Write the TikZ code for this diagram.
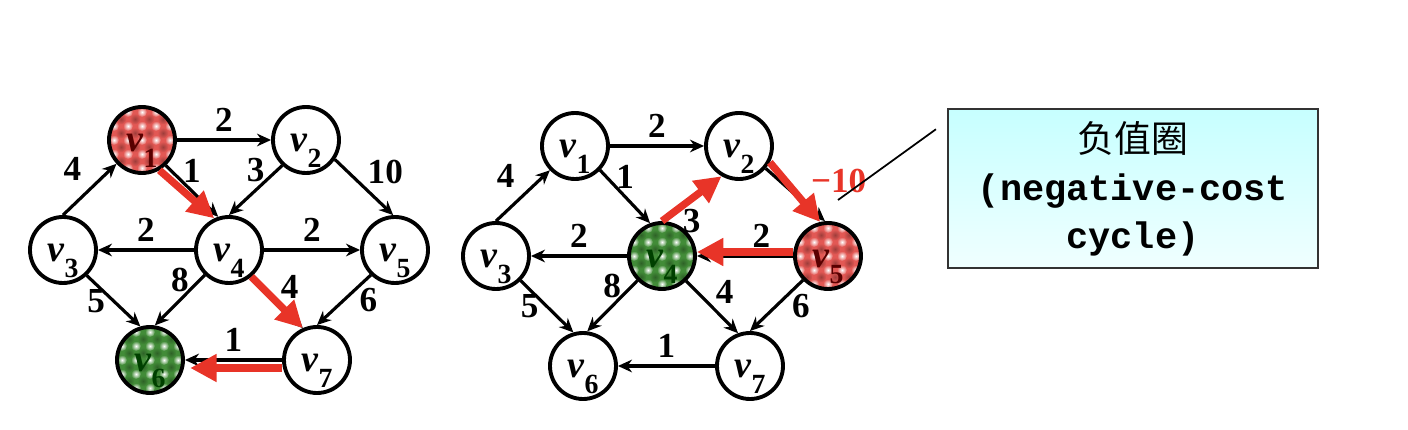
\documentclass[tikz,border=0pt]{standalone}
\usepackage{fontspec}
\setmainfont{Liberation Serif}
\setmonofont{Liberation Mono}
\newfontfamily\cjk{Noto Sans CJK SC}
\usepackage{xcolor}
\usetikzlibrary{arrows.meta, positioning, backgrounds}

\definecolor{hlred}{RGB}{232,52,40}
\definecolor{nodered}{RGB}{226,88,84}
\definecolor{nodegreen}{RGB}{66,140,56}

\newcommand{\vx}[1]{\textit{v}\raisebox{-4.3pt}{\fontsize{7.9}{7.9}\selectfont #1}}
% dotted fill behind a marked vertex
\newcommand{\speckle}[2]{%
  \begin{scope}
    \clip (#1.center) circle (0.33cm);
    \fill[#2] (#1.center) circle (0.33cm);
    \foreach \dx in {-0.35,-0.21,...,0.36}
      \foreach \dy in {-0.35,-0.21,...,0.36}
        \shade[inner color=#2!70!black, outer color=#2] ([shift={(\dx,\dy)}]#1.center) circle (0.055cm);
    \foreach \dx in {-0.28,-0.14,...,0.29}
      \foreach \dy in {-0.28,-0.14,...,0.29}
        \shade[inner color=white, outer color=#2] ([shift={(\dx,\dy)}]#1.center) circle (0.05cm);
  \end{scope}}

\begin{document}
\begin{tikzpicture}[
    vtx/.style={circle, draw, line width=1.1pt, minimum size=0.66cm, inner sep=0pt, fill=white, text height=10pt, text depth=3.2pt, font=\fontsize{10.8}{10.8}\selectfont\bfseries},
    hot/.style={vtx, fill=none, text=red!35!black},
    cool/.style={vtx, fill=none, text=green!25!black},
    arrow/.style={-{Stealth[length=4pt,width=3.6pt]}, line width=0.9pt},
    redarrow/.style={-{Triangle[length=7.5pt,width=7.5pt]}, line width=2.1pt, draw=hlred},
    lbl/.style={font=\fontsize{10}{10}\selectfont\bfseries, inner sep=2pt},
    callout/.style={draw=black!80, line width=0.6pt, top color=cyan!22, bottom color=cyan!6, minimum width=3.70cm, minimum height=1.53cm, align=center, font=\fontsize{10.5}{13.7}\selectfont}
]
\useasboundingbox (0,0) rectangle (14.08,4.30);

% Left graph
\node[hot]  (a1) at (1.42,2.90) {\vx{1}};
\node[vtx]  (a2) at (3.06,2.90) {\vx{2}};
\node[vtx]  (a3) at (0.63,1.80) {\vx{3}};
\node[vtx]  (a4) at (2.29,1.80) {\vx{4}};
\node[vtx]  (a5) at (3.95,1.80) {\vx{5}};
\node[cool] (a6) at (1.50,0.70) {\vx{6}};
\node[vtx]  (a7) at (3.17,0.70) {\vx{7}};

\draw[arrow] (a1) -- node[lbl, above] {2} (a2);
\draw[arrow] (a1.-47) -- node[lbl, above] {1} (a4.108);
\draw[arrow] (a2.227) -- node[lbl, above] {3} (a4.north);
\draw[arrow] (a2.-34) -- node[lbl, above right=-2pt] {10} (a5.93);
\draw[arrow] (a3.north) -- node[lbl, above left] {4} (a1.223);
\draw[arrow] (a4) -- node[lbl, above] {2} (a3);
\draw[arrow] (a4) -- node[lbl, above] {2} (a5);
\draw[arrow] (a4.226) -- node[lbl, above] {8} (a6.82);
\draw[arrow] (a3.-47) -- node[lbl, left] {5} (a6.106);
\draw[arrow] (a4.-50) -- node[lbl, above right=-2pt] {4} (a7.114);
\draw[arrow] (a5.226) -- node[lbl, right=2pt] {6} (a7.north);
\draw[arrow] (a7) -- node[lbl, above] {1} (a6);

% shortest path v1 -> v6
\draw[redarrow] (a1.-60) -- (a4.115);
\draw[redarrow] (a4.-50) -- (a7.114);
\draw[redarrow, shorten >=1.5pt] ([yshift=-0.08cm]a7.west) -- ([yshift=-0.08cm]a6.east);

% Right graph
\node[vtx]  (b1) at (5.75,2.84) {\vx{1}};
\node[vtx]  (b2) at (7.39,2.84) {\vx{2}};
\node[vtx]  (b3) at (4.96,1.74) {\vx{3}};
\node[cool] (b4) at (6.62,1.74) {\vx{4}};
\node[hot]  (b5) at (8.28,1.74) {\vx{5}};
\node[vtx]  (b6) at (5.83,0.64) {\vx{6}};
\node[vtx]  (b7) at (7.50,0.64) {\vx{7}};

\draw[arrow] (b1) -- node[lbl, above] {2} (b2);
\draw[arrow] (b1.-44) -- node[lbl, above] {1} (b4.110);
\draw[arrow] (b2.-40) -- node[lbl, text=hlred, above right=-2pt and 2pt] {−10} (b5.95);
\draw[arrow] (b3.north) -- node[lbl, above left] {4} (b1.224);
\draw[arrow] (b4) -- node[lbl, above] {2} (b3);
\draw[arrow] (b5) -- node[lbl, above, pos=0.33] {2} (b4);
\draw[arrow] (b4.225) -- node[lbl, above] {8} (b6.83);
\draw[arrow] (b3.-45) -- node[lbl, left] {5} (b6.106);
\draw[arrow] (b4.-46) -- node[lbl, above right=-2pt] {4} (b7.110);
\draw[arrow] (b5.224) -- node[lbl, right=2pt] {6} (b7.north);
\draw[arrow] (b7) -- node[lbl, above] {1} (b6);

% negative-cost cycle v2 -> v5 -> v4 -> v2
\draw[redarrow] (b4.north) -- node[lbl, below] {3} (b2.240);
\draw[redarrow] (b2.-28) -- (b5.103);
\draw[redarrow] ([yshift=0.04cm]b5.west) -- ([yshift=0.04cm]b4.east);

% Callout
\node[callout] (note) at (11.33,2.415) {{\cjk 负值圈}\\{\ttfamily\bfseries (negative-cost}\\{\ttfamily\bfseries cycle)}};
\coordinate (tail) at (8.38,2.30);
\draw[line width=0.5pt] (tail) -- ([shift={(-0.11,-0.21)}]note.north west);

% marked vertices
\begin{scope}[on background layer]
  \speckle{a1}{nodered}
  \speckle{a6}{nodegreen}
  \speckle{b4}{nodegreen}
  \speckle{b5}{nodered}
\end{scope}

\end{tikzpicture}
\end{document}
